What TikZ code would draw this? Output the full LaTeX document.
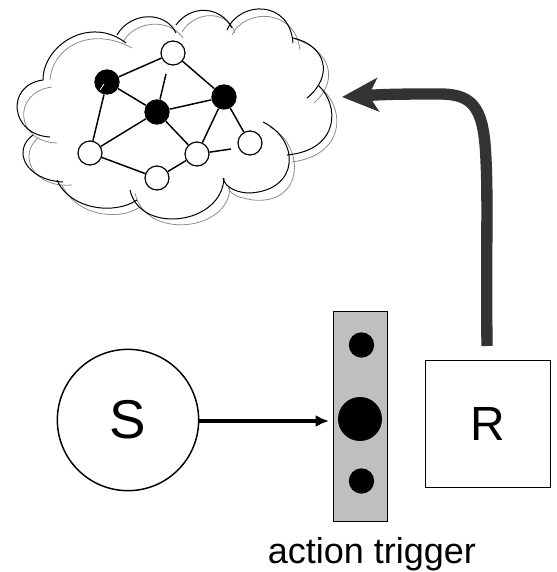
\documentclass[tikz,border=0pt]{standalone}
\usepackage{fontspec}
\setmainfont{Liberation Sans}
\usetikzlibrary{positioning,arrows.meta}
\tikzset{
  whitenode/.style={circle,draw,fill=white,line width=.9pt,inner sep=0pt,minimum size=18pt},
  blacknode/.style={circle,fill=black,inner sep=0pt,minimum size=19pt},
  bardot/.style={circle,fill=black,inner sep=0pt,minimum size=#1},
  netline/.style={line width=1.1pt},
  cloudblack/.style={line width=.75pt,black},
  cloudgray/.style={line width=.6pt,black!45},
}
\begin{document}
\begin{tikzpicture}[x=.75pt,y=-.75pt]
\useasboundingbox (0,0) rectangle (557,572);
% cloud, gray outline first
\draw[cloudgray] (50,80) .. controls (52,48) and (90,25) .. (132,48);
\draw[cloudgray] (123,42) .. controls (135,20) and (170,18) .. (183,38);
\draw[cloudgray] (182,32) .. controls (195,10) and (228,10) .. (235,33);
\draw[cloudgray] (232,35) .. controls (245,8) and (295,8) .. (300,50);
\draw[cloudgray] (295,39) .. controls (330,50) and (340,80) .. (314,103);
\draw[cloudgray] (323,90) .. controls (345,110) and (345,155) .. (292,162);
\draw[cloudgray] (270,127) .. controls (305,145) and (305,205) .. (253,200) .. controls (240,198) and (230,195) .. (228,187);
\draw[cloudgray] (230,188) .. controls (228,232) and (145,240) .. (135,193);
\draw[cloudgray] (140,207) .. controls (118,222) and (75,215) .. (62,185);
\draw[cloudgray] (72,185) .. controls (32,188) and (18,155) .. (38,138);
\draw[cloudgray] (57,143) .. controls (15,142) and (12,92) .. (52,87);
% cloud, black outline
\draw[cloudblack] (43,80) .. controls (43,45) and (90,15) .. (126,43);
\draw[cloudblack] (117,35) .. controls (130,12) and (165,10) .. (176,33);
\draw[cloudblack] (176,25) .. controls (190,5) and (220,5) .. (232,28);
\draw[cloudblack] (227,30) .. controls (240,0) and (290,0) .. (293,43);
\draw[cloudblack] (293,38) .. controls (325,45) and (335,75) .. (307,98);
\draw[cloudblack] (318,85) .. controls (340,105) and (340,150) .. (287,155);
\draw[cloudblack] (263,122) .. controls (300,140) and (300,190) .. (250,193) .. controls (238,193) and (225,188) .. (223,178);
\draw[cloudblack] (224,178) .. controls (222,225) and (140,235) .. (130,190);
\draw[cloudblack] (137,200) .. controls (115,215) and (70,210) .. (57,180);
\draw[cloudblack] (63,182) .. controls (25,180) and (12,150) .. (33,135);
\draw[cloudblack] (50,137) .. controls (10,135) and (5,85) .. (43,80);
% network
\node[whitenode] (n1) at (173,53) {};
\node[blacknode] (n2) at (107,82) {};
\node[blacknode] (n3) at (157,112) {};
\node[blacknode] (n4) at (224,97) {};
\node[whitenode] (n5) at (90,153) {};
\node[whitenode] (n6) at (197,154) {};
\node[whitenode] (n7) at (250,143) {};
\node[whitenode] (n8) at (157,178) {};
\coordinate (e1) at (166,74);
\coordinate (e2) at (231,149);
\path[netline] (n2) edge (n1);
\path[netline] (n1) edge (n4);
\path[netline] (n2) edge (n3);
\path[netline] (n3) edge (n4);
\path[netline] (n3) edge (n5);
\path[netline] (n3) edge (n6);
\path[netline] (n3) edge (e1);
\path[netline] (n2) edge (n5);
\path[netline] (n5) edge (n8);
\path[netline] (n8) edge (n6);
\path[netline] (n4) edge (n6);
\path[netline] (n4) edge (n7);
\path[netline] (n6) edge (e2);
\draw[white,line width=.6pt] (100,90) -- (104,84);
% lower part
\node[circle,draw,line width=1.1pt,minimum size=106pt,inner sep=0pt,font=\fontsize{41}{41}\selectfont] (sender) at (128,420) {S};
\node[draw,fill=black!25,line width=.6pt,minimum width=41pt,minimum height=157pt,inner sep=0pt] (bar) at (360.5,416.5) {};
\node[bardot=19pt] (d1) at (361.5,345) {};
\node[bardot=33pt] (d2) at (360,419) {};
\node[bardot=19pt] (d3) at (361.5,481) {};
\node[draw,line width=1.2pt,minimum width=94pt,minimum height=95pt,inner sep=0pt,font=\fontsize{36}{36}\selectfont] (recv) at (488,424) {R};
\node[below=8pt of bar,xshift=8.5pt,font=\fontsize{27}{27}\selectfont] (trigger) {action trigger};
\coordinate (barin) at (329,421);
\coordinate (recvout) at (487,346);
\coordinate (cloudin) at (342,97);
\draw[-{Latex[length=10pt,width=9pt]},line width=3pt] (sender.east |- barin) -- (barin);
\draw[-{Stealth[length=27pt,width=25pt,inset=7pt]},line width=8.5pt,black!80] (recvout) .. controls (486,250) and (488,200) .. (486,160) .. controls (484,110) and (475,94) .. (440,94) .. controls (410,94) and (390,94) .. (cloudin);
\end{tikzpicture}
\end{document}
